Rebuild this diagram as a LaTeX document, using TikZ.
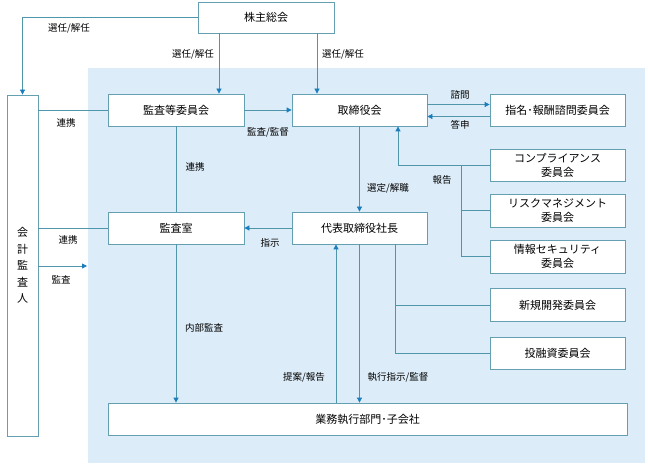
\documentclass[tikz,border=0pt]{standalone}
\usepackage{fontspec}
\setmainfont{Noto Sans CJK JP}
\definecolor{linkteal}{RGB}{80, 150, 170}
\definecolor{tipblue}{RGB}{25, 125, 190}
\definecolor{boxedge}{RGB}{100, 160, 178}
\definecolor{panelblue}{RGB}{220, 236, 248}
\usetikzlibrary{arrows.meta, calc}

\begin{document}
\begin{tikzpicture}[x=1pt, y=-1pt,
    orgbox/.style={draw=boxedge, fill=white, line width=0.8pt, font=\fontsize{11}{14}\selectfont, align=center, inner sep=0pt},
    link/.style={draw=linkteal, line width=0.8pt},
    arr/.style={link, -{Triangle[length=5pt, width=5pt, color=tipblue]}},
    lbl/.style={font=\fontsize{9.5}{11}\selectfont, inner sep=0pt}]
  \useasboundingbox (0,0) rectangle (648,465);

  % Company panel
  \fill[panelblue] (88,68) rectangle (645,463);

  % Boxes
  \node[orgbox, minimum width=136pt, minimum height=31pt] (kabunushi) at (266,17.5) {株主総会};
  \node[orgbox, minimum width=31pt, minimum height=341pt, font=\fontsize{11}{16.5}\selectfont] (kaikei) at (22.5,265.5) {会\\計\\監\\査\\人};
  \node[orgbox, minimum width=136pt, minimum height=32pt] (kansatou) at (176,110) {監査等委員会};
  \node[orgbox, minimum width=135pt, minimum height=32pt] (torishimari) at (359.5,110) {取締役会};
  \node[orgbox, minimum width=135pt, minimum height=32pt] (shimei) at (557.5,110) {指名･報酬諮問委員会};
  \node[orgbox, minimum width=136pt, minimum height=32pt] (kansashitsu) at (176,228) {監査室};
  \node[orgbox, minimum width=135pt, minimum height=32pt] (daihyo) at (359.5,228) {代表取締役社長};

  \node[orgbox, minimum width=135pt, minimum height=32pt] (compliance) at (557.5,165) {コンプライアンス\\委員会};
  \node[orgbox, minimum width=135pt, minimum height=33pt] (risk) at (557.5,210.5) {リスクマネジメント\\委員会};
  \node[orgbox, minimum width=135pt, minimum height=33pt] (joho) at (557.5,256.5) {情報セキュリティ\\委員会};
  \node[orgbox, minimum width=135pt, minimum height=33pt] (shinki) at (557.5,305) {新規開発委員会};
  \node[orgbox, minimum width=135pt, minimum height=32pt] (yuushi) at (557.5,353) {投融資委員会};

  \node[orgbox, minimum width=519pt, minimum height=32pt] (gyomu) at (367.5,419) {業務執行部門･子会社};

  % Shareholders
  \draw[arr] (kabunushi.west) -| (kaikei.north);
  \draw[arr] ([xshift=-47pt]kabunushi.south) -- ([xshift=-47pt]kabunushi.south |- kansatou.north);
  \draw[arr] ([xshift=51pt]kabunushi.south) -- ([xshift=51pt]kabunushi.south |- torishimari.north);
  \node[lbl] (l-sennin1) at (69,28) {選任/解任};
  \node[lbl] (l-sennin2) at (193,54) {選任/解任};
  \node[lbl] (l-sennin3) at (343,54) {選任/解任};

  % Board level
  \draw[arr] (kansatou.east) -- (kansatou.east -| torishimari.west);
  \node[lbl] (l-kantoku) at (268,132) {監査/監督};
  \draw[link] (kansatou.west) -- (kansatou.west -| kaikei.east);
  \node[lbl] (l-renkei1) at (66,123) {連携};
  \draw[arr] ([yshift=5.5pt]torishimari.east) -- ([yshift=5.5pt]torishimari.east -| shimei.west);
  \draw[arr] ([yshift=-6.5pt]shimei.west) -- ([yshift=-6.5pt]shimei.west -| torishimari.east);
  \node[lbl] (l-shimon) at (460,95) {諮問};
  \node[lbl] (l-toushin) at (460,125) {答申};

  % Audit
  \draw[link] (kansatou.south) -- (kansashitsu.north);
  \node[lbl] (l-renkei2) at (195,167) {連携};
  \draw[link] (kansashitsu.west) -- (kansashitsu.west -| kaikei.east);
  \node[lbl] (l-renkei3) at (68,240) {連携};
  \coordinate (kansaend) at (87,266);
  \draw[arr] (kaikei.east |- kansaend) -- (kansaend);
  \node[lbl] (l-kansa) at (61,280) {監査};
  \draw[arr] (daihyo.west) -- (kansashitsu.east);
  \node[lbl] (l-shiji) at (270,243) {指示};
  \draw[arr] (kansashitsu.south) -- (kansashitsu.south |- gyomu.north);
  \node[lbl] (l-naibu) at (204,328) {内部監査};

  % President
  \draw[arr] (torishimari.south) -- (daihyo.north);
  \node[lbl] (l-sentei) at (388,188) {選定/解職};

  % Committees reporting
  \coordinate (bus) at (461,165);
  \draw[arr] (compliance.west) -| ([xshift=38.5pt]torishimari.south);
  \draw[link] (risk.west) -- (risk.west -| bus);
  \draw[link] (joho.west) -| (bus);
  \node[lbl] (l-houkoku) at (442,180) {報告};

  % Committees under president
  \coordinate (execbus) at ([xshift=35.5pt]daihyo.south);
  \draw[link] (execbus) |- (yuushi.west);
  \draw[link] (shinki.west) -- (shinki.west -| execbus);

  % Execution
  \draw[arr] (daihyo.south) -- (daihyo.south |- gyomu.north);
  \node[lbl] (l-shikkou) at (398,377) {執行指示/監督};
  \draw[arr] ([xshift=-23.5pt]daihyo.south |- gyomu.north) -- ([xshift=-23.5pt]daihyo.south);
  \node[lbl] (l-teian) at (304,377) {提案/報告};
\end{tikzpicture}
\end{document}
